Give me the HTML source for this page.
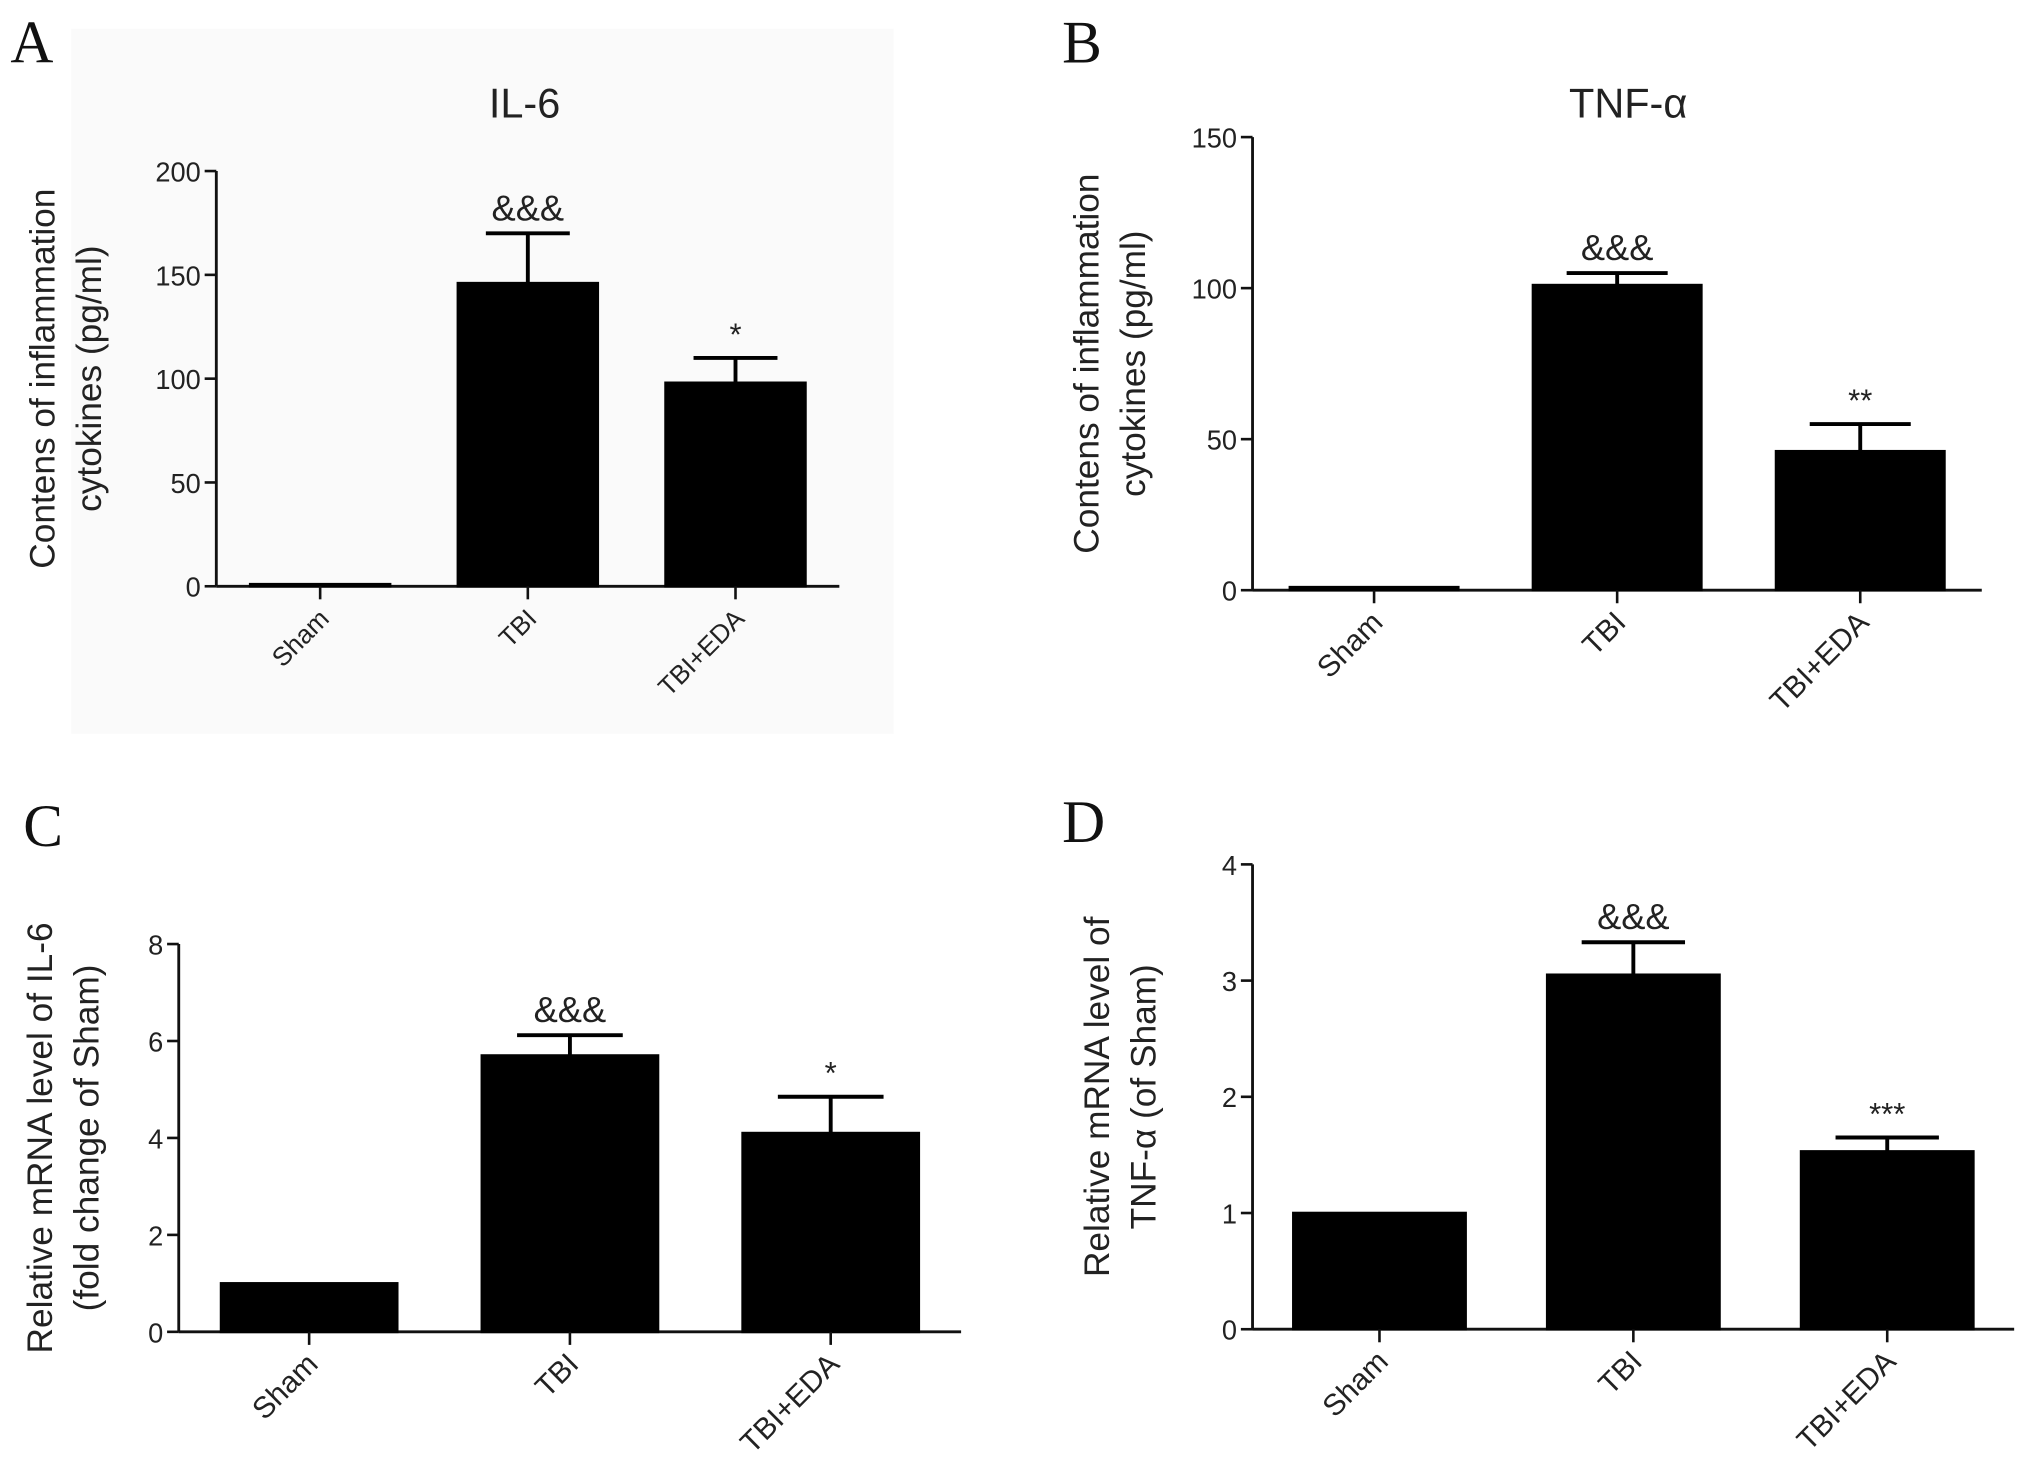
<!DOCTYPE html>
<html><head><meta charset="utf-8"><style>
html,body{margin:0;padding:0;background:#fff;}
svg{display:block;}
text{font-family:"Liberation Sans",Arial,sans-serif;fill:#222;}
.pl{font-family:"Liberation Serif",serif;font-size:46px;fill:#111;}
</style></head><body>
<svg id="fig" width="2031" height="1482" viewBox="0 0 1568 1135" preserveAspectRatio="none" xmlns="http://www.w3.org/2000/svg">
<rect x="55" y="22" width="635" height="540" fill="#fafafa"/>
<text class="pl" x="8" y="48">A</text>
<text class="pl" x="820" y="48">B</text>
<text class="pl" x="18" y="648">C</text>
<text class="pl" x="820" y="645">D</text>
</svg>
<script>
const categories = ["Sham","TBI","TBI+EDA"];
const valuesA = [1,146,98];
const errorsA = [0,24,12];
const marksA = ["","&&&","*"];
const ticksA = [0,50,100,150,200];
const valuesB = [1,101,46];
const errorsB = [0,4,9];
const marksB = ["","&&&","**"];
const ticksB = [0,50,100,150];
const valuesC = [1,5.7,4.1];
const errorsC = [0,0.42,0.75];
const marksC = ["","&&&","*"];
const ticksC = [0,2,4,6,8];
const valuesD = [1,3.05,1.53];
const errorsD = [0,0.28,0.12];
const marksD = ["","&&&","***"];
const ticksD = [0,1,2,3,4];

const svg = document.getElementById('fig');
const NS = 'http://www.w3.org/2000/svg';
function mk(tag, attrs, txt){
  const e = document.createElementNS(NS, tag);
  for (const k in attrs) e.setAttribute(k, attrs[k]);
  if (txt !== undefined) e.textContent = txt;
  svg.appendChild(e);
  return e;
}
function panel(p){
  const yScale = v => p.y0 - (v - p.ticks[0]) / (p.ticks[p.ticks.length-1] - p.ticks[0]) * (p.y0 - p.yTop);
  const step = (p.xEnd - p.ax) / 3;
  const xScale = i => p.ax + step * (i + 0.5);
  let a = mk('line',{x1:p.ax,y1:p.yTop,x2:p.ax,y2:p.y0,stroke:'#111','stroke-width':2.2});
  
  
  a = mk('line',{x1:p.ax,y1:p.y0,x2:p.xEnd,y2:p.y0,stroke:'#111','stroke-width':2.2});
  
  
  p.ticks.forEach(t=>{
    const y = yScale(t);
    const l = mk('line',{x1:p.ax-9,y1:y,x2:p.ax,y2:y,stroke:'#111','stroke-width':2});
    
    
    const tx = mk('text',{x:p.ax-12,y:y+8,'text-anchor':'end','font-size':21,fill:'#111'}, String(t));
    
    
  });
  p.values.forEach((v,i)=>{
    const cx = xScale(i), w = p.bw;
    const top = yScale(v);
    const r = mk('rect',{x:cx-w/2,y:top,width:w,height:p.y0-top,fill:'#000',stroke:'#000','stroke-width':2});
    
    
    if (p.errors[i] > 0){
      const et = yScale(v + p.errors[i]);
      const e1 = mk('line',{x1:cx,y1:top,x2:cx,y2:et,stroke:'#000','stroke-width':3});
      
      
      const e2 = mk('line',{x1:cx-w*0.3,y1:et,x2:cx+w*0.3,y2:et,stroke:'#000','stroke-width':3});
      
      
      const s = mk('text',{x:cx,y:et-10,'text-anchor':'middle','font-size':p.marks[i]==='&&&'?28:24,fill:'#333'}, p.marks[i]);
      
      
    }
    const tk = mk('line',{x1:cx,y1:p.y0,x2:cx,y2:p.y0+10,stroke:'#111','stroke-width':2});
    
    
    const lx = cx+8, ly = p.y0+26;
    const lab = mk('text',{x:lx,y:ly,'text-anchor':'end','font-size':p.lfs,fill:'#111',transform:`rotate(-45 ${lx} ${ly})`}, categories[i]);
    
    
  });
  if (p.title){
    const t = mk('text',{x:p.titleX,y:90,'text-anchor':'middle','font-size':32,fill:'#333'}, p.title);
    
    
  }
  const cy = (p.yTop + p.y0)/2;
  p.ytitle.forEach((line,k)=>{
    const x = p.ytx + k*36;
    const t = mk('text',{x:x,y:cy,'text-anchor':'middle','font-size':27,fill:'#222',transform:`rotate(-90 ${x} ${cy})`}, line);
    
    
  });
}
panel({id:'panel-a',ax:167,xEnd:648,y0:449,yTop:131,ticks:ticksA,values:valuesA,errors:errorsA,marks:marksA,bw:108,lfs:20,title:'IL-6',titleX:405,ytitle:['Contens of inflammation','cytokines (pg/ml)'],ytx:42});
panel({id:'panel-b',ax:967,xEnd:1530,y0:452,yTop:105,ticks:ticksB,values:valuesB,errors:errorsB,marks:marksB,bw:130,lfs:23,title:'TNF-α',titleX:1257,ytitle:['Contens of inflammation','cytokines (pg/ml)'],ytx:848});
panel({id:'panel-c',ax:138,xEnd:742,y0:1020,yTop:723,ticks:ticksC,values:valuesC,errors:errorsC,marks:marksC,bw:136,lfs:23,ytitle:['Relative mRNA level of IL-6','(fold change of Sham)'],ytx:40});
panel({id:'panel-d',ax:967,xEnd:1555,y0:1018,yTop:662,ticks:ticksD,values:valuesD,errors:errorsD,marks:marksD,bw:133,lfs:23,ytitle:['Relative mRNA level of','TNF-α (of Sham)'],ytx:856});
</script>
</body></html>
